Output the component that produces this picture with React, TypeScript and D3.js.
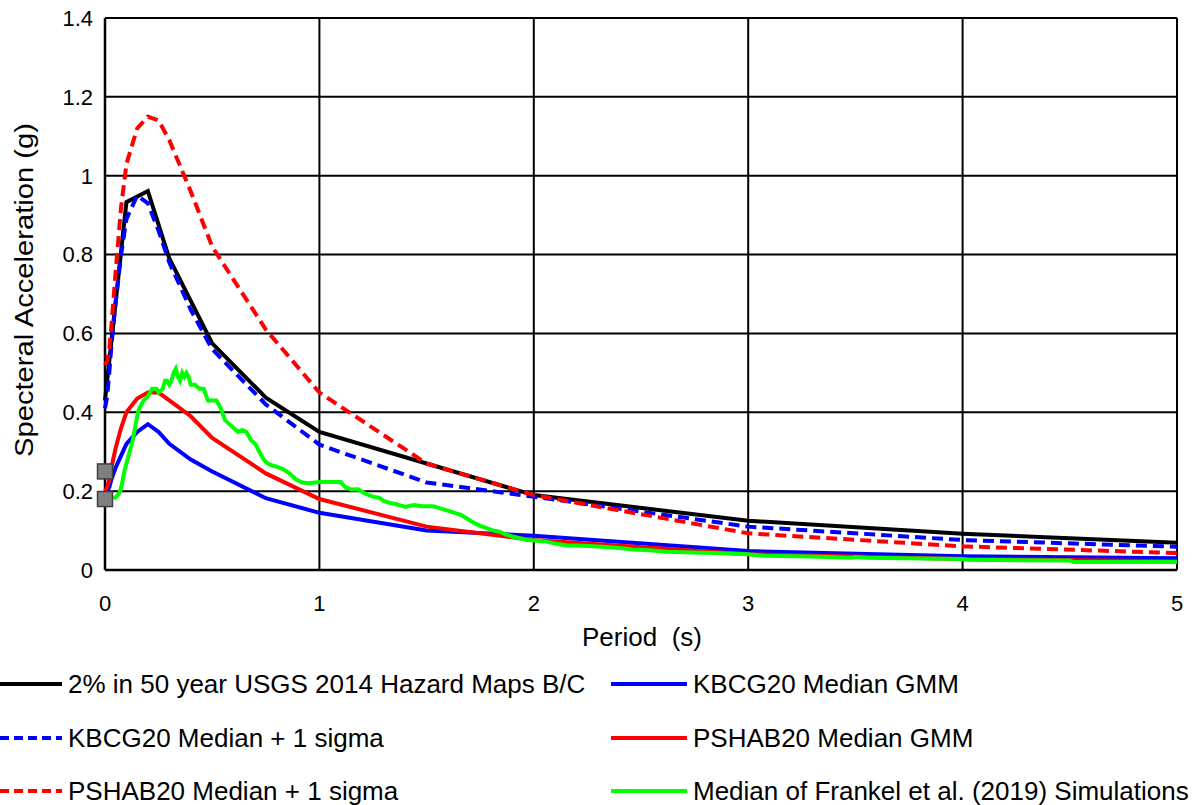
import React from "react";
import * as d3 from "d3";

const xTicks = [0, 1, 2, 3, 4, 5];
const yTicks = [0, 0.2, 0.4, 0.6, 0.8, 1, 1.2, 1.4];
const yTickLabels = ["0", "0.2", "0.4", "0.6", "0.8", "1", "1.2", "1.4"];

const usgsPeriods = [0, 0.1, 0.2, 0.3, 0.5, 0.75, 1, 1.5, 2, 3, 4, 5];
const usgsValues = [0.43, 0.933, 0.961, 0.79, 0.575, 0.437, 0.35, 0.27, 0.19, 0.125, 0.092, 0.069];

const gmmPeriods = [0, 0.01, 0.02, 0.03, 0.05, 0.075, 0.1, 0.15, 0.2, 0.25, 0.3, 0.4, 0.5, 0.75, 1, 1.5, 2, 3, 4, 5];
const kbcgMedian = [0.19, 0.2, 0.21, 0.23, 0.26, 0.29, 0.32, 0.35, 0.37, 0.35, 0.32, 0.28, 0.25, 0.182, 0.145, 0.1, 0.087, 0.048, 0.035, 0.03];
const kbcgPlus = [0.41, 0.44, 0.5, 0.57, 0.68, 0.8, 0.89, 0.95, 0.93, 0.86, 0.78, 0.66, 0.56, 0.42, 0.318, 0.222, 0.186, 0.11, 0.076, 0.059];
const pshabMedian = [0.2, 0.21, 0.23, 0.26, 0.31, 0.36, 0.4, 0.435, 0.45, 0.45, 0.43, 0.39, 0.335, 0.245, 0.18, 0.11, 0.076, 0.04, 0.028, 0.022];
const pshabPlus = [0.52, 0.53, 0.56, 0.62, 0.76, 0.92, 1.03, 1.12, 1.15, 1.14, 1.09, 0.96, 0.82, 0.61, 0.45, 0.27, 0.19, 0.093, 0.06, 0.043];

const frankelPeriods = [0.04, 0.06, 0.07, 0.08, 0.09, 0.1, 0.11, 0.12, 0.13, 0.14, 0.15, 0.16, 0.18, 0.2, 0.22, 0.24, 0.25, 0.27, 0.28, 0.29, 0.3, 0.31, 0.32, 0.33, 0.34, 0.35, 0.36, 0.37, 0.38, 0.39, 0.4, 0.42, 0.44, 0.46, 0.48, 0.5, 0.52, 0.54, 0.56, 0.58, 0.6, 0.62, 0.64, 0.66, 0.68, 0.7, 0.72, 0.74, 0.76, 0.78, 0.8, 0.83, 0.86, 0.89, 0.92, 0.95, 1.0, 1.05, 1.1, 1.12, 1.15, 1.18, 1.2, 1.22, 1.25, 1.28, 1.3, 1.33, 1.36, 1.4, 1.44, 1.48, 1.53, 1.56, 1.59, 1.62, 1.66, 1.69, 1.72, 1.75, 1.78, 1.81, 1.84, 1.87, 1.9, 1.94, 1.97, 2.02, 2.06, 2.1, 2.15, 2.2, 2.28, 2.35, 2.4, 2.46, 2.54, 2.62, 2.7, 2.85, 3.0, 3.08, 3.3, 3.48, 3.5, 3.55, 4.0, 4.02, 4.5, 4.52, 5.0];
const frankelValues = [0.18, 0.19, 0.2, 0.22, 0.25, 0.27, 0.29, 0.31, 0.33, 0.36, 0.39, 0.41, 0.43, 0.44, 0.46, 0.46, 0.45, 0.46, 0.48, 0.48, 0.47, 0.48, 0.5, 0.51, 0.49, 0.48, 0.5, 0.49, 0.5, 0.49, 0.47, 0.47, 0.46, 0.46, 0.43, 0.43, 0.43, 0.41, 0.38, 0.37, 0.36, 0.35, 0.355, 0.35, 0.33, 0.32, 0.3, 0.28, 0.27, 0.265, 0.262, 0.256, 0.245, 0.23, 0.222, 0.22, 0.223, 0.223, 0.223, 0.21, 0.204, 0.205, 0.198, 0.192, 0.186, 0.183, 0.175, 0.17, 0.167, 0.16, 0.165, 0.162, 0.162, 0.157, 0.152, 0.147, 0.14, 0.13, 0.12, 0.112, 0.106, 0.1, 0.097, 0.09, 0.085, 0.08, 0.076, 0.074, 0.072, 0.067, 0.063, 0.062, 0.06, 0.058, 0.056, 0.052, 0.05, 0.046, 0.045, 0.043, 0.04, 0.036, 0.034, 0.031, 0.033, 0.031, 0.028, 0.026, 0.024, 0.02, 0.02];

const siteMarkerValues = [0.25, 0.18];

const legendLabels = [
  "2% in 50 year USGS 2014 Hazard Maps B/C",
  "KBCG20 Median GMM",
  "KBCG20 Median + 1 sigma",
  "PSHAB20 Median GMM",
  "PSHAB20 Median + 1 sigma",
  "Median of Frankel et al. (2019) Simulations",
];

const FONT = "'Liberation Sans', Arial, sans-serif";

export default function App() {
  const W = 1192, H = 805;
  const x = d3.scaleLinear().domain([0, 5]).range([105, 1177]);
  const y = d3.scaleLinear().domain([0, 1.4]).range([570, 18]);
  const line = d3.line<[number, number]>().x(d => x(d[0])).y(d => y(d[1]));
  const zip = (a: number[], b: number[]) => a.map((v, i) => [v, b[i]] as [number, number]);

  const series = [
    { label: legendLabels[0], data: zip(usgsPeriods, usgsValues), color: "#000000", dash: undefined as string | undefined },
    { label: legendLabels[1], data: zip(gmmPeriods, kbcgMedian), color: "#0000FF", dash: undefined },
    { label: legendLabels[2], data: zip(gmmPeriods, kbcgPlus), color: "#0000FF", dash: "11,6" },
    { label: legendLabels[3], data: zip(gmmPeriods, pshabMedian), color: "#FF0000", dash: undefined },
    { label: legendLabels[4], data: zip(gmmPeriods, pshabPlus), color: "#FF0000", dash: "11,6" },
    { label: legendLabels[5], data: zip(frankelPeriods, frankelValues), color: "#00FF00", dash: undefined },
  ];

  const legendPos = [
    { lx1: 0, lx2: 62, tx: 68, y: 684 },
    { lx1: 611, lx2: 687, tx: 693, y: 684 },
    { lx1: 0, lx2: 62, tx: 68, y: 738 },
    { lx1: 611, lx2: 687, tx: 693, y: 738 },
    { lx1: 0, lx2: 62, tx: 68, y: 791 },
    { lx1: 611, lx2: 687, tx: 693, y: 791 },
  ];

  return (
    <svg width={W} height={H} style={{ position: "absolute", left: 0, top: 0, background: "#fff" }} fontFamily={FONT}>
      <rect x={0} y={0} width={W} height={H} fill="#fff" />
      {yTicks.map(t => (
        <line key={"gy" + t} x1={x(0)} x2={x(5)} y1={y(t)} y2={y(t)} stroke="#000" strokeWidth={2} />
      ))}
      {xTicks.map(t => (
        <line key={"gx" + t} x1={x(t)} x2={x(t)} y1={y(0)} y2={y(1.4)} stroke="#000" strokeWidth={2} />
      ))}
      <line x1={x(0)} x2={x(5)} y1={y(0)} y2={y(0)} stroke="#000" strokeWidth={2.5} />
      <line x1={x(0)} x2={x(0)} y1={y(0)} y2={y(1.4)} stroke="#000" strokeWidth={2.5} />
      {yTicks.map((t, i) => (
        <text key={"yl" + t} x={93} y={y(t)} dy="0.36em" textAnchor="end" fontSize={22} fill="#000">{yTickLabels[i]}</text>
      ))}
      {xTicks.map(t => (
        <text key={"xl" + t} x={x(t)} y={603} dy="0.36em" textAnchor="middle" fontSize={22} fill="#000">{t}</text>
      ))}
      <text x={642} y={637} dy="0.36em" textAnchor="middle" fontSize={26} fill="#000">{"Period\u00a0 (s)"}</text>
      <text transform={`translate(24,290) rotate(-90)`} dy="0.36em" textAnchor="middle" fontSize={25} textLength={334} lengthAdjust="spacingAndGlyphs" fill="#000">Specteral Acceleration (g)</text>
      {series.map(s => (
        <path key={s.label} d={line(s.data) || ""} fill="none" stroke={s.color} strokeWidth={4} strokeDasharray={s.dash} strokeLinejoin="miter" />
      ))}
      {siteMarkerValues.map((v, i) => (
        <rect key={"m" + i} x={x(0) - 7.5} y={y(v) - 7.5} width={15} height={15} fill="#808080" stroke="#404040" strokeWidth={1.5} />
      ))}
      {series.map((s, i) => {
        const p = legendPos[i];
        return (
          <g key={"lg" + i}>
            <line x1={p.lx1} x2={p.lx2} y1={p.y} y2={p.y} stroke={s.color} strokeWidth={4} strokeDasharray={s.dash ? "9,5" : undefined} />
            <text x={p.tx} y={p.y} dy="0.36em" fontSize={26} fill="#000">{s.label}</text>
          </g>
        );
      })}
    </svg>
  );
}
